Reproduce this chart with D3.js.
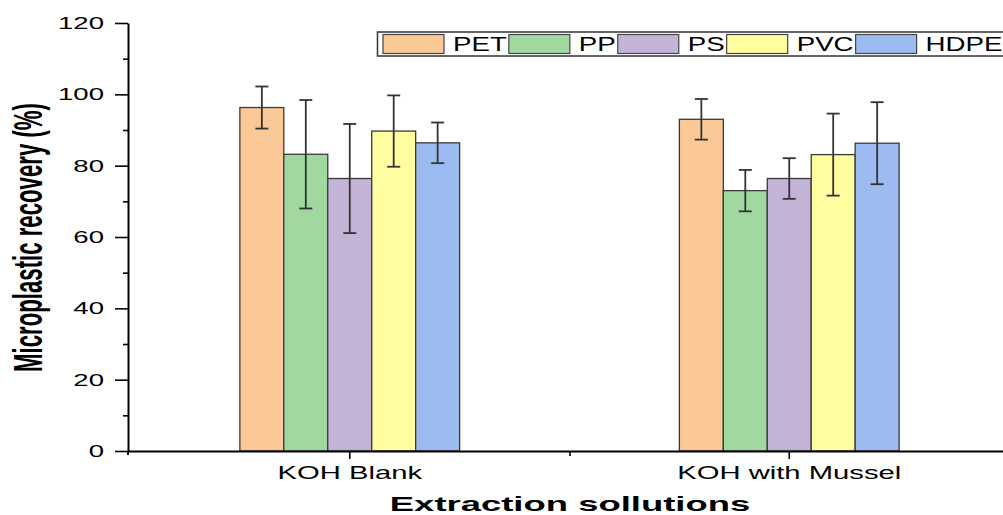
<!DOCTYPE html>
<html>
<head>
<meta charset="utf-8">
<script src="https://cdn.jsdelivr.net/npm/d3@7"></script>
<style>
  html, body { margin: 0; padding: 0; background: #fff; overflow: hidden; }
  svg { display: block; font-family: "Liberation Sans", Arial, sans-serif; }
</style>
</head>
<body>
<svg id="chart" width="1003" height="515"></svg>
<script>
// ---- data ----
const categories = ["KOH Blank", "KOH with Mussel"];
const seriesNames = ["PET", "PP", "PS", "PVC", "HDPE"];
const PET  = [96.3, 93.0];
const PP   = [83.2, 73.0];
const PS   = [76.4, 76.4];
const PVC  = [89.7, 83.1];
const HDPE = [86.4, 86.3];
const PET_err  = [5.9, 5.7];
const PP_err   = [15.2, 5.8];
const PS_err   = [15.3, 5.7];
const PVC_err  = [10.0, 11.5];
const HDPE_err = [5.7, 11.5];
const yTicks = [0, 20, 40, 60, 80, 100, 120];
const yMinorTicks = [10, 30, 50, 70, 90, 110];
const xTitle = "Extraction sollutions";
const yTitle = "Microplastic recovery (%)";

const colors = ["#FBC898", "#A0D8A0", "#C3B3D7", "#FFFDA0", "#9CBBF1"];
const values = [PET, PP, PS, PVC, HDPE];
const errors = [PET_err, PP_err, PS_err, PVC_err, HDPE_err];

const rows = [];
categories.forEach((c, ci) => {
  seriesNames.forEach((s, si) => {
    rows.push({cat: c, series: s, value: values[si][ci], err: errors[si][ci], color: colors[si]});
  });
});

const svg = d3.select("#chart");
const axisX = 128, x0 = 130, x1 = 1009, yBottom = 451, yTop = 23;

const x = d3.scaleBand().domain(categories).range([x0, x1]).padding(0);
const bw = x.bandwidth();
const xs = d3.scaleBand().domain(seriesNames).range([bw * 0.25, bw * 0.75]).padding(0);
const y = d3.scaleLinear().domain([0, 120]).range([yBottom, yTop]);

// bars
const bars = svg.append("g");
bars.selectAll("rect").data(rows).enter().append("rect")
  .attr("x", d => x(d.cat) + xs(d.series))
  .attr("y", d => y(d.value))
  .attr("width", xs.bandwidth())
  .attr("height", d => y(0) - y(d.value))
  .attr("fill", d => d.color)
  .attr("stroke", "#3a3a3a")
  .attr("stroke-width", 1.3);

// error bars
const eb = svg.append("g").attr("stroke", "#333").attr("stroke-width", 1.8).attr("fill", "none");
rows.forEach(d => {
  const cx = x(d.cat) + xs(d.series) + xs.bandwidth() / 2;
  eb.append("line").attr("x1", cx).attr("x2", cx).attr("y1", y(d.value + d.err)).attr("y2", y(d.value - d.err));
  eb.append("line").attr("x1", cx - 6.5).attr("x2", cx + 6.5).attr("y1", y(d.value + d.err)).attr("y2", y(d.value + d.err));
  eb.append("line").attr("x1", cx - 6.5).attr("x2", cx + 6.5).attr("y1", y(d.value - d.err)).attr("y2", y(d.value - d.err));
});

// y axis
const yAxisG = svg.append("g").attr("transform", `translate(${axisX},0)`)
  .call(d3.axisLeft(y).tickValues(yTicks).tickSize(13).tickPadding(11).tickSizeOuter(0));
yAxisG.select(".domain").attr("stroke", "#000").attr("stroke-width", 2);
yAxisG.selectAll(".tick line").attr("stroke", "#000").attr("stroke-width", 1.6);
yAxisG.selectAll(".tick text")
  .attr("x", 0)
  .attr("dy", "0.33em")
  .attr("transform", "translate(-24,0) scale(1.67,1)")
  .attr("font-size", 16.5)
  .attr("font-family", "'Liberation Sans', Arial, sans-serif")
  .attr("fill", "#000");

const yMinorG = svg.append("g").attr("transform", `translate(${axisX},0)`)
  .call(d3.axisLeft(y).tickValues(yMinorTicks).tickSize(5).tickFormat(""));
yMinorG.select(".domain").remove();
yMinorG.selectAll(".tick line").attr("stroke", "#000").attr("stroke-width", 1.6);

// x axis
const xAxisG = svg.append("g").attr("transform", `translate(0,${yBottom})`)
  .call(d3.axisBottom(x).tickSize(8).tickPadding(9).tickSizeOuter(0));
xAxisG.select(".domain").attr("d", `M${axisX},0.5H${x1}`).attr("stroke", "#000").attr("stroke-width", 2);
xAxisG.selectAll(".tick line").attr("stroke", "#000").attr("stroke-width", 1.6);
xAxisG.selectAll(".tick text")
  .attr("y", 0).attr("dy", 0)
  .attr("transform", "translate(0,28) scale(1.67,1)")
  .attr("font-size", 17.5)
  .attr("font-family", "'Liberation Sans', Arial, sans-serif")
  .attr("fill", "#000");

// minor x tick between categories
const xMinor = svg.append("g").attr("transform", `translate(0,${yBottom})`)
  .call(d3.axisBottom(d3.scaleLinear().domain([0, 1]).range([x0, x1]))
    .tickValues([0.5]).tickSize(5).tickFormat(""));
xMinor.select(".domain").remove();
xMinor.selectAll(".tick line").attr("stroke", "#000").attr("stroke-width", 1.6);

// small extension of y axis below x axis
svg.append("line").attr("x1", axisX).attr("x2", axisX).attr("y1", yBottom).attr("y2", yBottom + 4)
  .attr("stroke", "#000").attr("stroke-width", 2);

// axis titles
svg.append("text")
  .attr("transform", "translate(570,511) scale(1.87,1)")
  .attr("text-anchor", "middle")
  .attr("font-size", 19.5)
  .attr("font-weight", "bold")
  .attr("fill", "#000")
  .text(xTitle);

svg.append("text")
  .attr("transform", "translate(42,237.5) rotate(-90) scale(1,1.79)")
  .attr("text-anchor", "middle")
  .attr("font-size", 22.2)
  .attr("font-weight", "bold")
  .attr("fill", "#000")
  .text(yTitle);

// legend
const lg = svg.append("g");
lg.append("rect").attr("x", 377.5).attr("y", 32).attr("width", 640).attr("height", 24)
  .attr("fill", "#fff").attr("stroke", "#333").attr("stroke-width", 1.5);
let lx = 383;
seriesNames.forEach((s, i) => {
  lg.append("rect").attr("x", lx).attr("y", 34.5).attr("width", 61).attr("height", 19)
    .attr("fill", colors[i]).attr("stroke", "#444").attr("stroke-width", 1.2);
  const tx = lx + 70;
  const t = lg.append("text")
    .attr("transform", `translate(${tx},50.7) scale(1.42,1)`)
    .attr("font-size", 19.5)
    .attr("fill", "#000")
    .text(s);
  const w = t.node().getComputedTextLength() * 1.42;
  lx = tx + w + 2;
});
</script>
</body>
</html>
